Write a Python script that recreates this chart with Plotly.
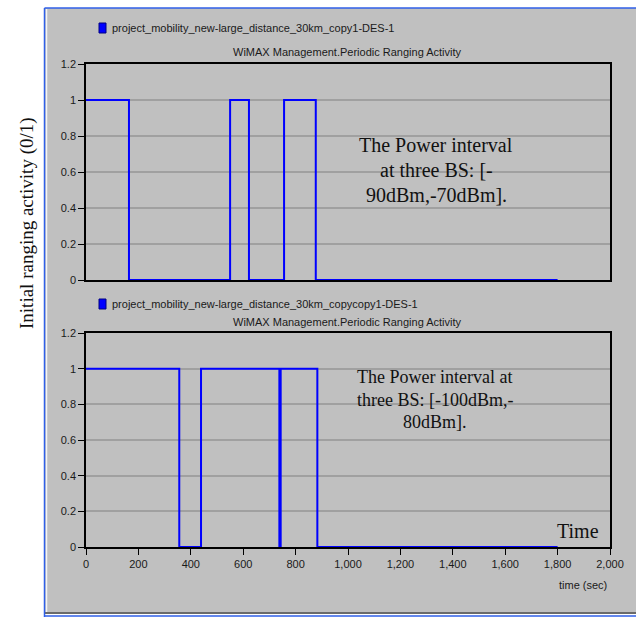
import plotly.graph_objects as go

# ---- data ----
top_times = [0, 164, 550, 622, 756, 877, 1800]
top_values = [1, 0, 1, 0, 1, 0, 0]
bot_times = [0, 356, 439, 738, 743, 883, 1800]
bot_values = [1, 0, 1, 0, 1, 0, 0]

top_series = "project_mobility_new-large_distance_30km_copy1-DES-1"
bot_series = "project_mobility_new-large_distance_30km_copycopy1-DES-1"
panel_title = "WiMAX Management.Periodic Ranging Activity"
top_note = ["The Power interval", "at three BS: [-", "90dBm,-70dBm]."]
bot_note = ["The Power interval at", "three BS: [-100dBm,-", "80dBm]."]
x_ticks = [0, 200, 400, 600, 800, 1000, 1200, 1400, 1600, 1800, 2000]
y_ticks = [0, 0.2, 0.4, 0.6, 0.8, 1, 1.2]

W, H = 636, 617
def px(x):
    return x / W
def py(y):
    return 1 - y / H

fig = go.Figure()
fig.add_trace(go.Scatter(x=top_times, y=top_values, mode="lines", line_shape="hv",
                         line=dict(color="#0000ff", width=2), xaxis="x", yaxis="y",
                         showlegend=False, hoverinfo="skip"))
fig.add_trace(go.Scatter(x=bot_times, y=bot_values, mode="lines", line_shape="hv",
                         line=dict(color="#0000ff", width=2), xaxis="x2", yaxis="y2",
                         showlegend=False, hoverinfo="skip"))

tickfont = dict(family="Liberation Sans, Arial", size=11, color="#1a1a1a")
common_y = dict(range=[0, 1.2], tickvals=y_ticks, ticktext=["0", "0.2", "0.4", "0.6", "0.8", "1", "1.2"],
                ticks="outside", ticklen=6, tickcolor="black", tickwidth=1,
                showgrid=True, gridcolor="#a0a0a0", gridwidth=1.5,
                showline=True, linecolor="black", linewidth=1.5, mirror=True,
                zeroline=False, tickfont=tickfont, fixedrange=True, layer="below traces",
                automargin=False)
common_x = dict(range=[0, 2000], showgrid=False, zeroline=False,
                showline=True, linecolor="black", linewidth=1.5, mirror=True,
                fixedrange=True, layer="below traces", automargin=False)

fig.update_layout(
    template="none",
    width=W, height=H,
    margin=dict(l=0, r=0, t=0, b=0, pad=0),
    paper_bgcolor="white",
    plot_bgcolor="#f0f0f0",
    xaxis=dict(domain=[px(86), px(610)], anchor="y", showticklabels=False, ticks="", **common_x),
    yaxis=dict(domain=[py(280), py(64)], anchor="x", **common_y),
    xaxis2=dict(domain=[px(86), px(610)], anchor="y2", tickvals=x_ticks,
                ticktext=[f"{v:,}" for v in x_ticks], ticks="outside", ticklen=6,
                tickcolor="black", tickfont=tickfont, **common_x),
    yaxis2=dict(domain=[py(547), py(333)], anchor="x2", **common_y),
)

shapes = []
# gray panel
shapes.append(dict(type="rect", xref="paper", yref="paper", x0=px(45), x1=px(640), y0=py(614), y1=py(8),
                   fillcolor="#c0c0c0", line=dict(width=0), layer="below"))
# bevel highlight
shapes.append(dict(type="line", xref="paper", yref="paper", x0=px(46.5), x1=px(46.5), y0=py(613), y1=py(9),
                   line=dict(color="#f4f4f4", width=1.5), layer="below"))
# dark bottom line
shapes.append(dict(type="line", xref="paper", yref="paper", x0=px(45), x1=px(640), y0=py(613), y1=py(613),
                   line=dict(color="#6a6a6a", width=2), layer="below"))
# blue frame
for (x0, y0, x1, y1) in [(44.5, 8, 640, 8), (44.5, 8, 44.5, 617), (44.5, 616, 640, 616)]:
    shapes.append(dict(type="line", xref="paper", yref="paper", x0=px(x0), x1=px(x1), y0=py(y0), y1=py(y1),
                       line=dict(color="#2f5fe8", width=1.5), layer="below"))
# legend squares
for yc in (28, 304):
    shapes.append(dict(type="rect", xref="paper", yref="paper", x0=px(99), x1=px(106), y0=py(yc + 5), y1=py(yc - 5),
                       fillcolor="#0000ff", line=dict(color="#000080", width=1), layer="above"))
fig.update_layout(shapes=shapes)

ann = []
small = dict(family="Liberation Sans, Arial", size=11, color="#1a1a1a")
for yc, name in ((28, top_series), (304, bot_series)):
    ann.append(dict(x=px(110), y=py(yc), xref="paper", yref="paper", text=name, showarrow=False,
                    xanchor="left", yanchor="middle", font=small))
for yc in (52, 322):
    ann.append(dict(x=px(347), y=py(yc), xref="paper", yref="paper", text=panel_title, showarrow=False,
                    xanchor="center", yanchor="middle", font=small))

serif_top = dict(family="Liberation Serif, Times New Roman", size=20, color="#111111")
for yc, line in zip((145, 170, 195), top_note):
    ann.append(dict(x=px(436), y=py(yc), xref="paper", yref="paper", text=line, showarrow=False,
                    xanchor="center", yanchor="middle", font=serif_top))
serif_bot = dict(family="Liberation Serif, Times New Roman", size=18, color="#111111")
for yc, line in zip((377, 400, 422), bot_note):
    ann.append(dict(x=px(434.5), y=py(yc), xref="paper", yref="paper", text=line, showarrow=False,
                    xanchor="center", yanchor="middle", font=serif_bot))

ann.append(dict(x=px(578), y=py(531), xref="paper", yref="paper", text="Time", showarrow=False,
                xanchor="center", yanchor="middle",
                font=dict(family="Liberation Serif, Times New Roman", size=20, color="#111111")))
ann.append(dict(x=px(583), y=py(585), xref="paper", yref="paper", text="time (sec)", showarrow=False,
                xanchor="center", yanchor="middle", font=small))
ann.append(dict(x=px(27), y=py(223), xref="paper", yref="paper", text="Initial ranging activity (0/1)",
                showarrow=False, textangle=-90, xanchor="center", yanchor="middle",
                font=dict(family="Liberation Serif, Times New Roman", size=19, color="#111111")))
fig.update_layout(annotations=ann)

fig.write_html("out.html")
